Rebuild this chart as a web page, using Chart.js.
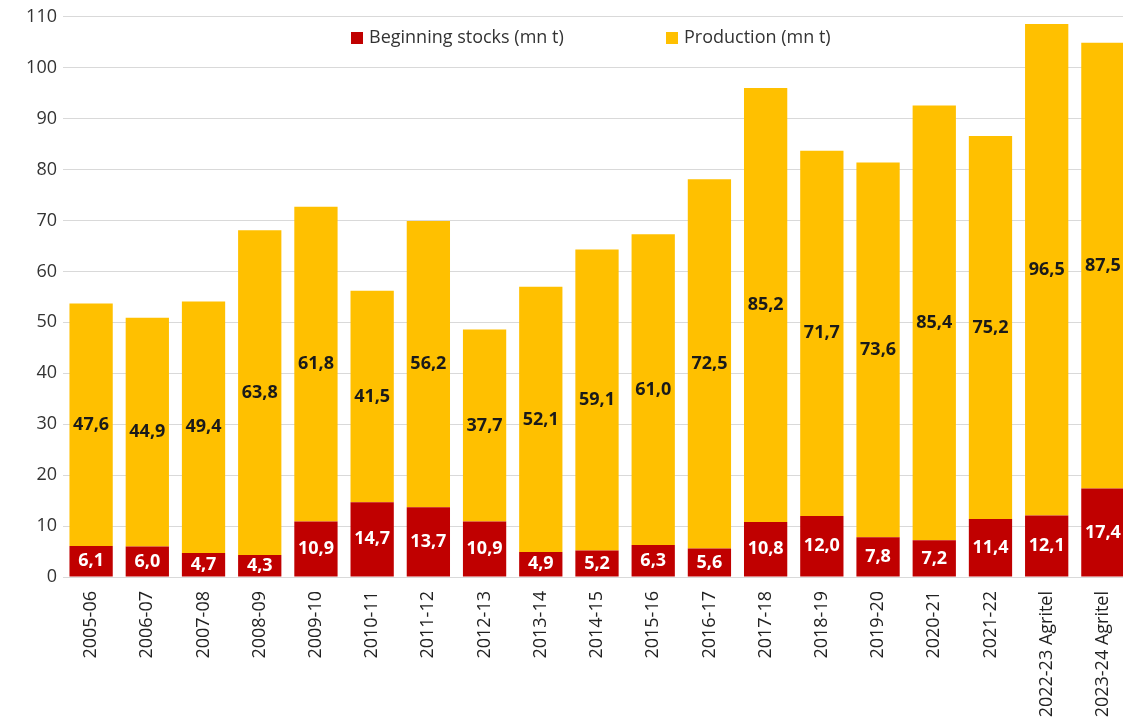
<!DOCTYPE html>
<html>
<head>
<meta charset="utf-8">
<script src="https://cdn.jsdelivr.net/npm/chart.js@4"></script>
<style>
  html, body { margin: 0; padding: 0; background: #fff; overflow: hidden; }
  #wrap { width: 1131px; height: 723px; }
</style>
</head>
<body>
<div id="wrap"><canvas id="myBarChart"></canvas></div>
<script>
// Chart data
var seasons = ["2005-06", "2006-07", "2007-08", "2008-09", "2009-10", "2010-11", "2011-12",
    "2012-13", "2013-14", "2014-15", "2015-16", "2016-17", "2017-18", "2018-19", "2019-20",
    "2020-21", "2021-22", "2022-23 Agritel", "2023-24 Agritel"];
var beginningStocks = [6.1, 6.0, 4.7, 4.3, 10.9, 14.7, 13.7, 10.9, 4.9, 5.2, 6.3, 5.6,
    10.8, 12.0, 7.8, 7.2, 11.4, 12.1, 17.4];
var production = [47.6, 44.9, 49.4, 63.8, 61.8, 41.5, 56.2, 37.7, 52.1, 59.1, 61.0, 72.5,
    85.2, 71.7, 73.6, 85.4, 75.2, 96.5, 87.5];
var yTicks = [0, 10, 20, 30, 40, 50, 60, 70, 80, 90, 100, 110];

var labelFont = "'Open Sans', sans-serif";

// draws the value in the middle of every bar segment
var barLabels = {
    id: 'barLabels',
    afterDatasetsDraw: function (chart) {
        var ctx = chart.ctx;
        ctx.save();
        ctx.font = 'bold 18px ' + labelFont;
        ctx.textAlign = 'center';
        ctx.textBaseline = 'middle';
        chart.data.datasets.forEach(function (ds, i) {
            var meta = chart.getDatasetMeta(i);
            meta.data.forEach(function (bar, j) {
                var txt = ds.data[j].toFixed(1).replace('.', ',');
                ctx.fillStyle = ds.labelColor;
                ctx.fillText(txt, bar.x, (bar.y + bar.base) / 2);
            });
        });
        ctx.restore();
    }
};

// legend drawn inside the plot area
var innerLegend = {
    id: 'innerLegend',
    afterDraw: function (chart) {
        var ctx = chart.ctx;
        var items = [
            { x: 351, color: chart.data.datasets[0].backgroundColor, text: chart.data.datasets[0].label },
            { x: 666, color: chart.data.datasets[1].backgroundColor, text: chart.data.datasets[1].label }
        ];
        ctx.save();
        ctx.font = '18px ' + labelFont;
        ctx.textBaseline = 'middle';
        items.forEach(function (it) {
            ctx.fillStyle = it.color;
            ctx.fillRect(it.x, 32, 12, 12);
            ctx.fillStyle = '#333';
            ctx.fillText(it.text, it.x + 18, 38);
        });
        ctx.restore();
    }
};

function createBarChart() {
    var ctx = document.getElementById('myBarChart').getContext('2d');

    var barChart = new Chart(ctx, {
        type: 'bar',
        data: {
            labels: seasons,
            datasets: [{
                label: 'Beginning stocks (mn t)',
                data: beginningStocks,
                backgroundColor: '#C00000',
                labelColor: '#ffffff',
                barPercentage: 0.77,
                categoryPercentage: 1
            }, {
                label: 'Production (mn t)',
                data: production,
                backgroundColor: '#FFC000',
                labelColor: '#1a1a1a',
                barPercentage: 0.77,
                categoryPercentage: 1
            }]
        },
        options: {
            responsive: true,
            maintainAspectRatio: false,
            animation: false,
            layout: { padding: { top: -5, right: 0, left: 0, bottom: 0 } },
            plugins: {
                legend: { display: false },
                tooltip: { enabled: false }
            },
            scales: {
                x: {
                    stacked: true,
                    grid: { display: false },
                    border: { display: false },
                    ticks: {
                        minRotation: 90,
                        maxRotation: 90,
                        autoSkip: false,
                        padding: 6,
                        color: '#222',
                        font: { family: labelFont, size: 18 }
                    },
                    afterFit: function (s) { s.height = 146; }
                },
                y: {
                    stacked: true,
                    min: 0,
                    max: 110,
                    afterBuildTicks: function (s) {
                        s.ticks = yTicks.map(function (v) { return { value: v }; });
                    },
                    grid: { color: '#d9d9d9', lineWidth: 1, drawTicks: false },
                    border: { display: false },
                    ticks: {
                        padding: 6,
                        color: '#333',
                        font: { family: labelFont, size: 18 }
                    },
                    afterFit: function (s) { s.width = 63; }
                }
            }
        },
        plugins: [barLabels, innerLegend]
    });
}

createBarChart();
</script>
</body>
</html>
